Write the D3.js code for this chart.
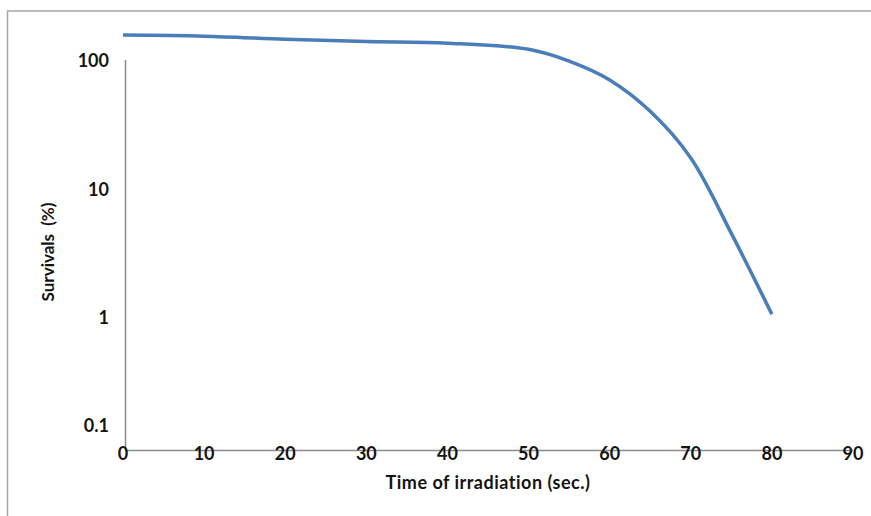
<!DOCTYPE html>
<html>
<head>
<meta charset="utf-8">
<script src="https://cdn.jsdelivr.net/npm/d3@7"></script>
<style>
  body { margin: 0; background: #fff; }
  text { font-family: Lato, "Open Sans", sans-serif; font-weight: bold; fill: #141414; }
</style>
</head>
<body>
<svg id="chart"></svg>
<script>
// data
const times = [0, 10, 20, 30, 40, 50, 55, 60, 65, 70, 75, 80];
const survivals = [156, 153, 145, 139, 135, 121, 98, 70, 40, 17.4, 4.5, 1.05];
const xTicks = [0, 10, 20, 30, 40, 50, 60, 70, 80, 90];
const yTicks = [0.1, 1, 10, 100];
const yTickLabels = ['0.1', '1', '10', '100'];

const width = 871;
const height = 516;

const svg = d3.select('#chart')
  .attr('width', width)
  .attr('height', height);

// outer frame (runs off the right and bottom edges)
svg.append('rect')
  .attr('x', 7.5)
  .attr('y', 11)
  .attr('width', 900)
  .attr('height', 540)
  .attr('fill', 'none')
  .attr('stroke', '#a6a6a6')
  .attr('stroke-width', 1.5);

const xScale = d3.scaleLinear()
  .domain([0, 90])
  .range([123, 853]);

// the log axis in the picture is not evenly spaced, so use a piecewise log scale
const yScale = d3.scaleLog()
  .domain([0.1, 1, 10, 100])
  .range([425, 317, 189, 60]);

const axisY = 450.5;
const axisX = 125.5;

// x axis line
svg.append('line')
  .attr('x1', axisX)
  .attr('x2', xScale(90))
  .attr('y1', axisY)
  .attr('y2', axisY)
  .attr('stroke', '#8c8c8c')
  .attr('stroke-width', 1.5);

// y axis line
svg.append('line')
  .attr('x1', axisX)
  .attr('x2', axisX)
  .attr('y1', yScale(100))
  .attr('y2', axisY)
  .attr('stroke', '#8c8c8c')
  .attr('stroke-width', 1.5);

// x tick labels
svg.selectAll('.x-label')
  .data(xTicks)
  .enter()
  .append('text')
  .attr('class', 'x-label')
  .attr('x', d => xScale(d))
  .attr('y', 460)
  .attr('text-anchor', 'middle')
  .style('font-size', '18px')
  .text(d => d);

// y tick labels
svg.selectAll('.y-label')
  .data(yTicks)
  .enter()
  .append('text')
  .attr('class', 'y-label')
  .attr('x', 109)
  .attr('y', d => yScale(d) + 6.5)
  .attr('text-anchor', 'end')
  .style('font-size', '18px')
  .text((d, i) => yTickLabels[i]);

// axis titles
svg.append('text')
  .attr('x', 488)
  .attr('y', 489)
  .attr('text-anchor', 'middle')
  .style('font-size', '18px')
  .style('letter-spacing', '0.5px')
  .text('Time of irradiation (sec.)');

svg.append('text')
  .attr('transform', 'translate(54,252) rotate(-90)')
  .attr('text-anchor', 'middle')
  .style('font-size', '17px')
  .style('word-spacing', '4px')
  .text('Survivals (%)');

// survival curve
const line = d3.line()
  .x((d, i) => xScale(times[i]))
  .y(d => yScale(d))
  .curve(d3.curveCatmullRom.alpha(0.5));

svg.append('path')
  .datum(survivals)
  .attr('d', line)
  .attr('fill', 'none')
  .attr('stroke', '#4a7ebb')
  .attr('stroke-width', 3.5);
</script>
</body>
</html>
